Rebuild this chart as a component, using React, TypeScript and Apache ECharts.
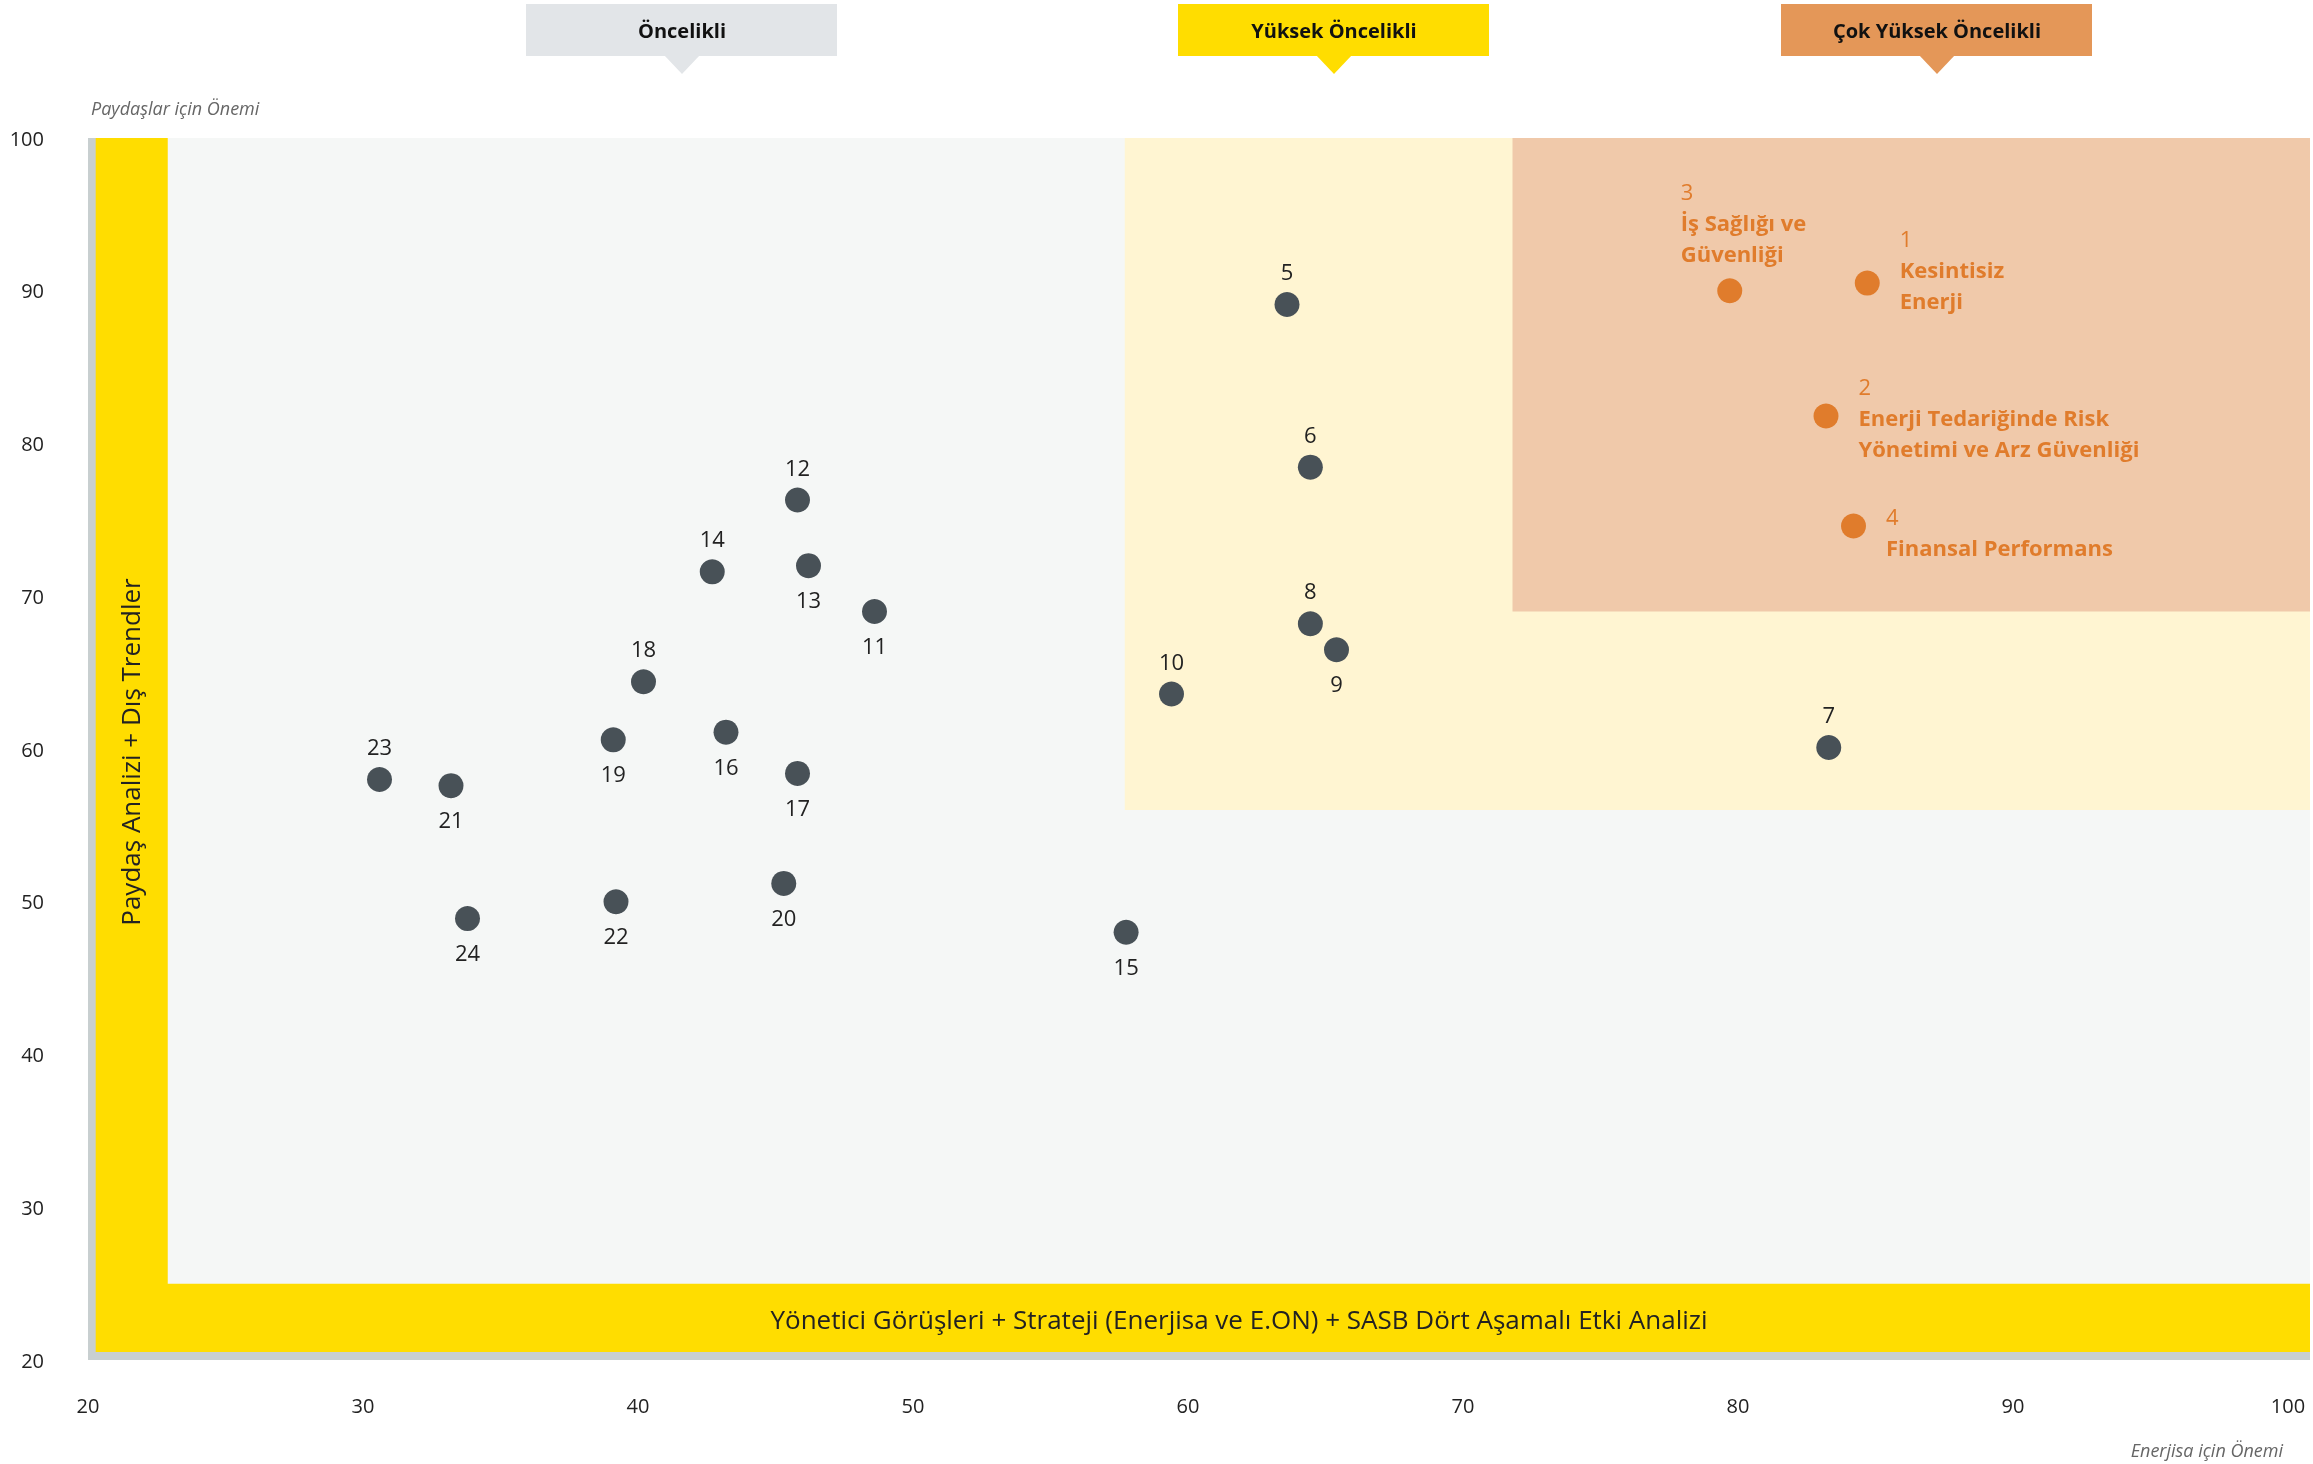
import React, { useEffect, useRef } from "react";
import * as echarts from "echarts";

// ---- data ----
const pointIds = ["5", "6", "7", "8", "9", "10", "11", "12", "13", "14", "15", "16", "17", "18", "19", "20", "21", "22", "23", "24"];
const xValues = [63.6, 64.45, 83.3, 64.45, 65.4, 59.4, 48.6, 45.8, 46.2, 42.7, 57.75, 43.2, 45.8, 40.2, 39.1, 45.3, 33.2, 39.2, 30.6, 33.8];
const yValues = [89.1, 78.45, 60.1, 68.2, 66.5, 63.6, 69.0, 76.3, 72.0, 71.6, 48.0, 61.1, 58.4, 64.4, 60.6, 51.2, 57.6, 50.0, 58.0, 48.9];
const labelSides = ["top", "top", "top", "top", "bottom", "top", "bottom", "top", "bottom", "top", "bottom", "bottom", "bottom", "top", "bottom", "bottom", "bottom", "bottom", "top", "bottom"];

const topIds = ["1", "2", "3", "4"];
const topNames = [
  ["Kesintisiz", "Enerji"],
  ["Enerji Tedariğinde Risk", "Yönetimi ve Arz Güvenliği"],
  ["İş Sağlığı ve", "Güvenliği"],
  ["Finansal Performans"],
];
const topX = [84.7, 83.2, 79.7, 84.2];
const topY = [90.5, 81.8, 90.0, 74.6];

const zoneNames = ["Öncelikli", "Yüksek Öncelikli", "Çok Yüksek Öncelikli"];
const highZoneStart = [57.7, 56]; // x, y
const veryHighZoneStart = [71.8, 69]; // x, y

const yAxisTitle = "Paydaşlar için Önemi";
const xAxisTitle = "Enerjisa için Önemi";
const leftBandText = "Paydaş Analizi + Dış Trendler";
const bottomBandText = "Yönetici Görüşleri + Strateji (Enerjisa ve E.ON) + SASB Dört Aşamalı Etki Analizi";

const FONT = "'Liberation Sans Narrow', 'Open Sans', 'Noto Sans', sans-serif";

export default function App() {
  const ref = useRef<HTMLDivElement>(null);

  useEffect(() => {
    document.body.style.margin = "0";
    const chart = echarts.init(ref.current!, undefined, { renderer: "svg" });

    const XMIN = 20, XMAX = 100.8, YMIN = 20, YMAX = 100;

    const area = (x1: number, y1: number, x2: number, y2: number, color: string) => [
      { xAxis: x1, yAxis: y1, itemStyle: { color, opacity: 1 } },
      { xAxis: x2, yAxis: y2 },
    ];

    const topLabelLayouts: any[] = [
      { position: "right", distance: 20, offset: [0, -14] },
      { position: "right", distance: 20, offset: [0, 1] },
      { position: "top", distance: 10, align: "left", offset: [-49, 0] },
      { position: "right", distance: 20, offset: [0, 6] },
    ];

    const orange = "#e07c2c";

    const callout = (cx: number, color: string, text: string) => ({
      type: "group",
      children: [
        { type: "rect", shape: { x: cx - 156, y: 4, width: 311, height: 52 }, style: { fill: color } },
        {
          type: "polygon",
          shape: { points: [[cx - 18, 55], [cx + 18, 55], [cx, 74]] },
          style: { fill: color },
        },
        {
          type: "text",
          x: cx,
          y: 30,
          style: { text, fill: "#111", font: `bold 20px ${FONT}`, align: "center", verticalAlign: "middle" },
        },
      ],
    });

    const option: any = {
      animation: false,
      grid: { left: 88, top: 138, width: 2222, height: 1222, containLabel: false },
      xAxis: {
        type: "value",
        min: XMIN,
        max: XMAX,
        interval: 10,
        axisLine: { show: false },
        axisTick: { show: false },
        splitLine: { show: false },
        axisLabel: {
          formatter: (v: number) => (Math.abs(v % 10) < 1e-6 ? String(v) : ""),
          margin: 35,
          fontSize: 20,
          color: "#222",
          fontFamily: FONT,
        },
      },
      yAxis: {
        type: "value",
        min: YMIN,
        max: YMAX,
        interval: 10,
        axisLine: { show: false },
        axisTick: { show: false },
        splitLine: { show: false },
        axisLabel: { margin: 44, fontSize: 20, color: "#222", fontFamily: FONT },
      },
      graphic: [
        callout(682, "#e2e5e8", zoneNames[0]),
        callout(1334, "#ffdd00", zoneNames[1]),
        callout(1937, "#e49758", zoneNames[2]),
        {
          type: "text",
          x: 91,
          y: 108,
          style: { text: yAxisTitle, fill: "#666", font: `italic 18px ${FONT}`, align: "left", verticalAlign: "middle" },
        },
        {
          type: "text",
          x: 2283,
          y: 1450,
          style: { text: xAxisTitle, fill: "#666", font: `italic 18px ${FONT}`, align: "right", verticalAlign: "middle" },
        },
        {
          type: "text",
          x: 130,
          y: 752,
          rotation: Math.PI / 2,
          z: 100,
          style: { text: leftBandText, fill: "#222", font: `26px ${FONT}`, align: "center", verticalAlign: "middle" },
        },
        {
          type: "text",
          x: 1239,
          y: 1319,
          z: 100,
          style: { text: bottomBandText, fill: "#222", font: `26px ${FONT}`, align: "center", verticalAlign: "middle" },
        },
      ],
      series: [
        {
          type: "scatter",
          data: [],
          z: 1,
          silent: true,
          markArea: {
            silent: true,
            label: { show: false },
            data: [
              area(XMIN, YMIN, XMAX, YMAX, "#c8cfd0"),
              area(20.28, 20.52, XMAX, YMAX, "#ffdd00"),
              area(22.9, 25, XMAX, YMAX, "#f5f7f6"),
              area(highZoneStart[0], highZoneStart[1], XMAX, YMAX, "#fff5d2"),
              area(veryHighZoneStart[0], veryHighZoneStart[1], XMAX, YMAX, "#f0c9aa"),
            ],
          },
        },
        {
          type: "scatter",
          z: 5,
          symbolSize: 25,
          itemStyle: { color: "#485157", opacity: 1 },
          data: pointIds.map((id, i) => ({
            value: [xValues[i], yValues[i]],
            name: id,
            label: { position: labelSides[i] },
          })),
          label: {
            show: true,
            formatter: (p: any) => p.name,
            distance: 10,
            fontSize: 22,
            color: "#222",
            fontFamily: FONT,
          },
        },
        {
          type: "scatter",
          z: 5,
          symbolSize: 25,
          itemStyle: { color: orange, opacity: 1 },
          data: topIds.map((id, i) => ({
            value: [topX[i], topY[i]],
            name: id,
            label: {
              ...topLabelLayouts[i],
              formatter: [`{n|${id}}`, ...topNames[i].map((s) => `{b|${s}}`)].join("\n"),
            },
          })),
          label: {
            show: true,
            color: orange,
            fontFamily: FONT,
            rich: {
              n: { fontSize: 22, lineHeight: 31, color: orange, fontFamily: FONT, fontWeight: "normal" },
              b: { fontSize: 22, lineHeight: 31, color: orange, fontFamily: FONT, fontWeight: "bold" },
            },
          },
        },
      ],
    };

    chart.setOption(option);
    return () => chart.dispose();
  }, []);

  return <div ref={ref} style={{ position: "fixed", left: 0, top: 0, width: 2313, height: 1464 }} />;
}
